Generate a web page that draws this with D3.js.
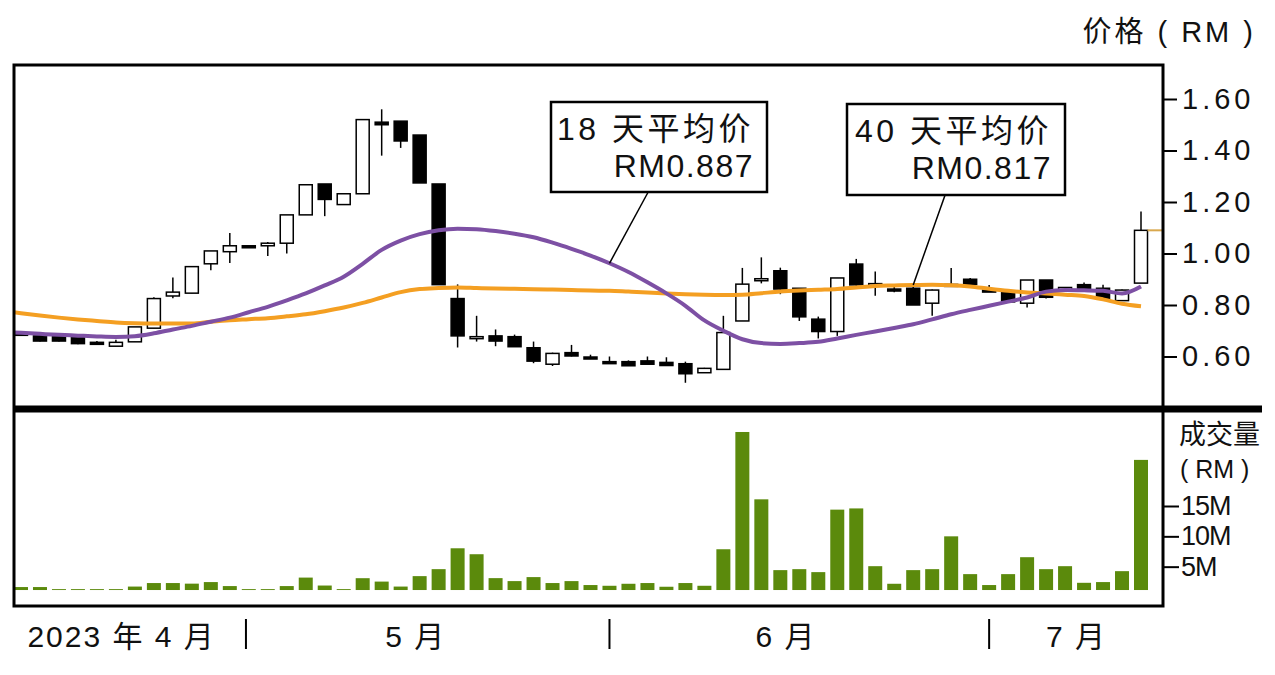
<!DOCTYPE html>
<html>
<head>
<meta charset="utf-8">
<script src="https://cdn.jsdelivr.net/npm/d3@7"></script>
<style>
body { margin: 0; background: #fff; }
svg text { font-family: "Liberation Sans", Arial, "Noto Sans CJK SC", sans-serif; fill: #111; }
</style>
</head>
<body>
<div id="chart"></div>
<script>
var canvas_width = 1275, canvas_height = 675;

// daily prices (RM), 60 trading days from early April 2023
var opens  = [0.69,0.68,0.68,0.673,0.655,0.64,0.657,0.71,0.835,0.846,0.96,1.007,1.03,1.03,1.04,1.15,1.27,1.19,1.232,1.51,
              1.514,1.46,1.27,0.825,0.675,0.68,0.677,0.634,0.57,0.615,0.598,0.58,0.58,0.583,0.577,0.572,0.537,0.55,0.738,0.90,
              0.933,0.865,0.745,0.697,0.959,0.877,0.862,0.865,0.807,0.88,0.90,0.858,0.855,0.807,0.897,0.855,0.879,0.865,0.817,0.885];
var highs  = [0.69,0.68,0.68,0.673,0.66,0.665,0.715,0.83,0.907,0.949,1.01,1.08,1.03,1.045,1.15,1.267,1.27,1.232,1.52,1.56,
              1.514,1.46,1.27,0.88,0.758,0.705,0.685,0.658,0.615,0.645,0.607,0.60,0.585,0.60,0.597,0.58,0.556,0.758,0.944,0.985,
              0.945,0.865,0.755,0.905,0.979,0.93,0.87,0.87,0.86,0.944,0.905,0.878,0.855,0.897,0.897,0.868,0.887,0.879,0.86,1.163];
var lows   = [0.68,0.658,0.658,0.648,0.645,0.64,0.657,0.71,0.826,0.846,0.935,0.963,1.03,0.99,1.0,1.15,1.145,1.19,1.232,1.38,
              1.41,1.274,0.879,0.635,0.658,0.64,0.638,0.574,0.563,0.60,0.59,0.58,0.563,0.57,0.563,0.498,0.537,0.55,0.738,0.884,
              0.842,0.738,0.67,0.68,0.875,0.836,0.85,0.80,0.758,0.878,0.88,0.852,0.812,0.79,0.825,0.855,0.86,0.82,0.817,0.885];
var closes = [0.685,0.66,0.66,0.65,0.655,0.655,0.715,0.825,0.85,0.949,1.01,1.03,1.03,1.04,1.15,1.267,1.21,1.232,1.52,1.50,
              1.437,1.274,0.879,0.68,0.677,0.66,0.638,0.582,0.612,0.602,0.597,0.58,0.564,0.57,0.565,0.533,0.554,0.693,0.881,0.902,
              0.862,0.754,0.697,0.905,0.878,0.883,0.862,0.80,0.858,0.88,0.88,0.858,0.812,0.897,0.83,0.868,0.862,0.823,0.858,1.09];
// turnover, million RM
var volumes = [1.64,1.64,1.3,1.3,1.3,1.3,1.72,2.3,2.3,2.2,2.46,1.8,1.3,1.3,1.8,3.2,1.89,1.3,3.1,2.54,
               1.72,3.44,4.59,8.03,7.05,3.11,2.62,3.28,2.3,2.62,1.97,1.85,2.18,2.3,1.69,2.3,1.85,7.87,27.2,16.1,
               4.43,4.59,4.1,14.4,14.6,5.08,2.18,4.43,4.59,10.0,3.77,1.97,3.77,6.56,4.59,5.08,2.34,2.46,4.26,22.6];
// moving averages, starting one day before the first candle
var ma18 = [0.695,0.692,0.688,0.684,0.681,0.678,0.676,0.679,0.690,0.705,0.719,0.735,0.751,0.772,0.793,0.818,0.845,0.876,0.910,0.960,1.014,
            1.050,1.075,1.090,1.096,1.094,1.087,1.077,1.063,1.042,1.018,0.992,0.962,0.928,0.888,0.845,0.797,0.740,0.700,0.667,0.652,
            0.649,0.652,0.657,0.670,0.684,0.697,0.711,0.725,0.744,0.764,0.781,0.797,0.813,0.829,0.852,0.858,0.857,0.855,0.845,0.872];
var ma40 = [0.778,0.768,0.759,0.751,0.744,0.738,0.732,0.729,0.728,0.728,0.728,0.735,0.741,0.745,0.749,0.756,0.764,0.776,0.790,0.808,0.829,
            0.850,0.862,0.866,0.868,0.866,0.864,0.863,0.861,0.860,0.858,0.856,0.855,0.852,0.849,0.845,0.842,0.840,0.839,0.840,0.846,
            0.852,0.856,0.859,0.862,0.868,0.874,0.876,0.878,0.879,0.877,0.872,0.863,0.855,0.849,0.845,0.840,0.835,0.822,0.805,0.795];

var priceTicks = [0.6, 0.8, 1.0, 1.2, 1.4, 1.6];
var volTicks = [5, 10, 15];
var volFloor = 1.15;
var monthNames = ["2023 年 4 月", "5 月", "6 月", "7 月"];
var monthAt = [5.3, 20.8, 40.3, 55.6];
var monthBreaks = [11.85, 31.0, 51.0];

var notes = [
    {line1: "18 天平均价", line2: "RM0.887", box: [551, 102, 216, 90], day: 31, ma: ma18},
    {line1: "40 天平均价", line2: "RM0.817", box: [847, 104, 218, 91], day: 47, ma: ma40}
];

var frame = {left: 14, top: 65, right: 1163, bottom: 606, split: 409};
var purple = "#7d50a4", orange = "#f49f22", green = "#5b8a0c";

var svg = d3.select("#chart")
    .append("svg")
    .attr("width", canvas_width)
    .attr("height", canvas_height);

var x = d3.scaleLinear().domain([0, 59]).range([21, 1141]);
var y = d3.scaleLinear().domain([0.6, 1.6]).range([356.5, 99]);
var yVol = d3.scaleLinear().domain([0, 15]).range([597, 506]);

svg.append("clipPath").attr("id", "plotclip")
    .append("rect")
    .attr("x", frame.left).attr("y", frame.top)
    .attr("width", frame.right - frame.left).attr("height", frame.split - frame.top);

// volume bars
svg.append("g").selectAll("rect")
    .data(volumes)
    .enter()
        .append("rect")
        .attr("x", function(d, i) { return x(i) - 7; })
        .attr("y", function(d) { return yVol(d); })
        .attr("width", 14)
        .attr("height", function(d) { return yVol(volFloor) - yVol(d); })
        .style("fill", green);

// candles
var days = d3.range(opens.length);
var candles = svg.append("g").selectAll("g")
    .data(days)
    .enter()
        .append("g");

candles.append("line")
    .attr("x1", function(i) { return x(i); })
    .attr("x2", function(i) { return x(i); })
    .attr("y1", function(i) { return y(highs[i]); })
    .attr("y2", function(i) { return y(lows[i]); })
    .style("stroke", "#000")
    .style("stroke-width", 1.5);

candles.append("rect")
    .attr("x", function(i) { return x(i) - 6.5; })
    .attr("y", function(i) { return y(Math.max(opens[i], closes[i])); })
    .attr("width", 13)
    .attr("height", function(i) { return Math.max(2, Math.abs(y(opens[i]) - y(closes[i]))); })
    .style("fill", function(i) { return closes[i] > opens[i] ? "#fff" : "#000"; })
    .style("stroke", "#000")
    .style("stroke-width", 1.5);

// moving averages
var maLine = d3.line()
    .x(function(d, i) { return x(i - 1); })
    .y(function(d) { return y(d); })
    .curve(d3.curveMonotoneX);

svg.append("path")
    .attr("d", maLine(ma40))
    .attr("clip-path", "url(#plotclip)")
    .style("fill", "none")
    .style("stroke", orange)
    .style("stroke-width", 4);

svg.append("path")
    .attr("d", maLine(ma18))
    .attr("clip-path", "url(#plotclip)")
    .style("fill", "none")
    .style("stroke", purple)
    .style("stroke-width", 4);

// last close marker
var last = closes.length - 1;
svg.append("line")
    .attr("x1", x(last) + 6.5).attr("x2", frame.right)
    .attr("y1", y(closes[last])).attr("y2", y(closes[last]))
    .style("stroke", "#d9a84e")
    .style("stroke-width", 2);

// callouts
notes.forEach(function(n) {
    var b = n.box;
    svg.append("line")
        .attr("x1", b[0] + b[2] * 0.45).attr("y1", b[1] + b[3])
        .attr("x2", x(n.day)).attr("y2", y(n.ma[n.day + 1]))
        .style("stroke", "#000")
        .style("stroke-width", 1.5);
    svg.append("rect")
        .attr("x", b[0]).attr("y", b[1])
        .attr("width", b[2]).attr("height", b[3])
        .style("fill", "#fff")
        .style("stroke", "#000")
        .style("stroke-width", 2.5);
    svg.append("text")
        .attr("x", b[0] + b[2] - 13).attr("y", b[1] + 38)
        .attr("text-anchor", "end")
        .style("font-size", "32px")
        .style("letter-spacing", "3.5px")
        .text(n.line1);
    svg.append("text")
        .attr("x", b[0] + b[2] - 13).attr("y", b[1] + 75)
        .attr("text-anchor", "end")
        .style("font-size", "32px")
        .style("letter-spacing", "1.5px")
        .text(n.line2);
});

// frame
svg.append("rect")
    .attr("x", frame.left).attr("y", frame.top)
    .attr("width", frame.right - frame.left).attr("height", frame.bottom - frame.top)
    .style("fill", "none")
    .style("stroke", "#000")
    .style("stroke-width", 3);

svg.append("line")
    .attr("x1", frame.left).attr("x2", 1262)
    .attr("y1", frame.split).attr("y2", frame.split)
    .style("stroke", "#000")
    .style("stroke-width", 7);

// price axis
var priceAxis = svg.append("g")
    .attr("transform", "translate(" + frame.right + ",0)")
    .call(d3.axisRight(y).tickValues(priceTicks).tickSize(14).tickPadding(5)
        .tickFormat(d3.format(".2f")));
priceAxis.select(".domain").remove();
priceAxis.selectAll(".tick line").style("stroke", "#000").style("stroke-width", 2);
priceAxis.selectAll("text")
    .style("font-size", "29px")
    .style("letter-spacing", "4px")
    .style("fill", "#111");

svg.append("text")
    .attr("x", 1256).attr("y", 42)
    .attr("text-anchor", "end")
    .style("font-size", "29px")
    .style("letter-spacing", "3px")
    .text("价格 ( RM )");

// volume axis
var volAxis = svg.append("g")
    .attr("transform", "translate(" + frame.right + ",0)")
    .call(d3.axisRight(yVol).tickValues(volTicks).tickSize(16).tickPadding(2)
        .tickFormat(function(d) { return d + "M"; }));
volAxis.select(".domain").remove();
volAxis.selectAll(".tick line").style("stroke", "#000").style("stroke-width", 2);
volAxis.selectAll("text")
    .style("font-size", "27px")
    .style("letter-spacing", "-1px")
    .style("fill", "#111");

svg.append("text")
    .attr("x", 1179).attr("y", 444)
    .style("font-size", "27px")
    .text("成交量");
svg.append("text")
    .attr("x", 1180).attr("y", 478)
    .style("font-size", "25px")
    .text("( RM )");

// month labels
svg.append("g").selectAll("text")
    .data(monthNames)
    .enter()
        .append("text")
        .attr("x", function(d, i) { return x(monthAt[i]); })
        .attr("y", 647)
        .attr("text-anchor", "middle")
        .style("font-size", "30px")
        .style("letter-spacing", "2px")
        .text(function(d) { return d; });

svg.append("g").selectAll("line")
    .data(monthBreaks)
    .enter()
        .append("line")
        .attr("x1", function(d) { return x(d); })
        .attr("x2", function(d) { return x(d); })
        .attr("y1", 619).attr("y2", 649)
        .style("stroke", "#000")
        .style("stroke-width", 2);
</script>
</body>
</html>
